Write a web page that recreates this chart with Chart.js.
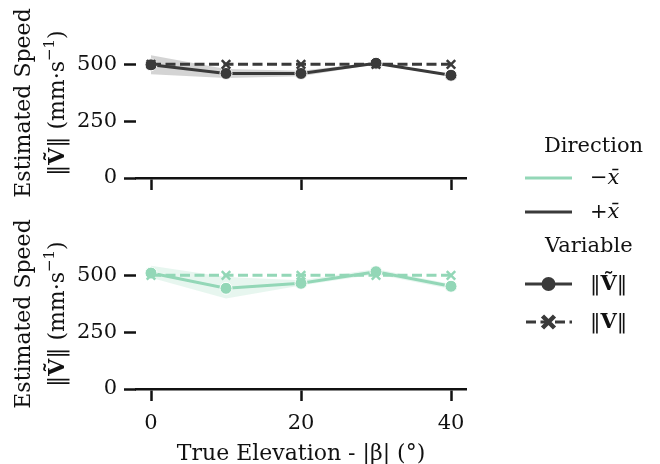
<!DOCTYPE html>
<html>
<head>
<meta charset="utf-8">
<script src="https://cdn.jsdelivr.net/npm/chart.js@4.4.1/dist/chart.umd.min.js"></script>
<style>
  body { margin: 0; background: #fff; }
  #wrap { position: relative; width: 660px; height: 464px; background: #fff; font-family: "DejaVu Serif", serif; color: #111; }
  canvas { position: absolute; left: 0; }
  #topCanvas { top: 0; }
  #botCanvas { top: 200px; }
  .lg { position: absolute; font-size: 21px; line-height: 24px; white-space: nowrap; }
</style>
</head>
<body>
<div id="wrap">
  <canvas id="topCanvas" width="660" height="200"></canvas>
  <canvas id="botCanvas" width="660" height="264"></canvas>

  <div class="lg" style="left:544px; top:133px;">Direction</div>
  <svg style="position:absolute; left:520px; top:160px;" width="60" height="180" id="handles"></svg>
  <div class="lg" style="left:590px; top:165px;">−<i>x̄</i></div>
  <div class="lg" style="left:590px; top:199px;">+<i>x̄</i></div>
  <div class="lg" style="left:545px; top:233px;">Variable</div>
  <div class="lg" style="left:590px; top:271px;">‖<b>Ṽ</b>‖</div>
  <div class="lg" style="left:590px; top:309px;">‖<b>V</b>‖</div>
</div>

<script>
// elevation angles (deg)
const elevation = [0, 10, 20, 30, 40];

// +x direction
const posEstimated = [498, 460, 460, 505, 452];
const posBandHigh  = [540, 480, 472, 509, 456];
const posBandLow   = [456, 440, 448, 501, 448];
const posTrue      = [500, 500, 500, 500, 500];

// -x direction
const negEstimated = [510, 443, 465, 516, 452];
const negBandHigh  = [542, 493, 478, 528, 462];
const negBandLow   = [490, 398, 455, 505, 440];
const negTrue      = [500, 500, 500, 500, 500];

const xTicks = [0, 20, 40];
const yTicks = [0, 250, 500];

const MINT = "#93d7b7";
const DARK = "#3a3a3a";
const FONT = "DejaVu Serif";

function pts(ys) {
    return elevation.map((x, i) => ({ x: x, y: ys[i] }));
}

// draws the two-line y title with mixed fonts
const yTitlePlugin = {
    id: "yTitle",
    afterDraw(chart) {
        const ctx = chart.ctx;
        const yc = (chart.chartArea.top + chart.chartArea.bottom) / 2;
        ctx.save();
        ctx.fillStyle = "#111";
        ctx.textBaseline = "alphabetic";

        // line 1
        ctx.save();
        ctx.translate(30, yc);
        ctx.rotate(-Math.PI / 2);
        ctx.font = `22px "${FONT}"`;
        ctx.textAlign = "center";
        ctx.fillText("Estimated Speed", 0, 0);
        ctx.restore();

        // line 2
        const runs = [
            { t: "‖", f: `22px "${FONT}"`, dy: 0 },
            { t: "Ṽ", f: `bold 22px "${FONT}"`, dy: 0 },
            { t: "‖ (mm·s", f: `22px "${FONT}"`, dy: 0 },
            { t: "−1", f: `15px "${FONT}"`, dy: -10 },
            { t: ")", f: `22px "${FONT}"`, dy: 0 }
        ];
        let total = 0;
        runs.forEach(r => { ctx.font = r.f; r.w = ctx.measureText(r.t).width; total += r.w; });
        ctx.save();
        ctx.translate(64, yc);
        ctx.rotate(-Math.PI / 2);
        ctx.textAlign = "left";
        let x = -total / 2;
        runs.forEach(r => { ctx.font = r.f; ctx.fillText(r.t, x, r.dy); x += r.w; });
        ctx.restore();

        ctx.restore();
    }
};

function makeChart(canvasId, color, shade, est, hi, lo, tru, padTop, showXLabels) {
    const canvas = document.getElementById(canvasId);
    const xHeight = canvas.height - padTop - 150;
    return new Chart(canvas, {
        type: "line",
        data: {
            datasets: [
                {
                    label: "true",
                    data: pts(tru),
                    borderColor: color,
                    borderWidth: 3,
                    borderDash: [10, 4.5],
                    pointStyle: "crossRot",
                    pointRadius: 6,
                    pointBorderWidth: 2.5,
                    pointBorderColor: color,
                    fill: false,
                    order: 0
                },
                {
                    label: "estimated",
                    data: pts(est),
                    borderColor: color,
                    borderWidth: 3,
                    pointStyle: "circle",
                    pointRadius: 6,
                    pointBackgroundColor: color,
                    pointBorderColor: "#ffffff",
                    pointBorderWidth: 1,
                    fill: false,
                    order: 1
                },
                {
                    label: "hi",
                    data: pts(hi),
                    borderWidth: 0,
                    pointRadius: 0,
                    fill: false,
                    order: 3
                },
                {
                    label: "lo",
                    data: pts(lo),
                    borderWidth: 0,
                    pointRadius: 0,
                    backgroundColor: shade,
                    fill: "-1",
                    order: 2
                }
            ]
        },
        options: {
            responsive: false,
            animation: false,
            events: [],
            layout: { autoPadding: false, padding: { top: padTop, right: 194, left: 0, bottom: 0 } },
            plugins: { legend: { display: false }, tooltip: { enabled: false } },
            scales: {
                x: {
                    type: "linear",
                    min: -2,
                    max: 42,
                    afterBuildTicks: s => { s.ticks = xTicks.map(v => ({ value: v })); },
                    afterFit: s => { s.height = xHeight; },
                    border: { display: true, color: "#111", width: 2.5 },
                    grid: { drawOnChartArea: false, drawTicks: true, tickLength: 12, tickWidth: 2.5, tickColor: "#111" },
                    ticks: {
                        display: true,
                        color: showXLabels ? "#111" : "rgba(0,0,0,0)",
                        font: { family: FONT, size: 21 },
                        padding: 10,
                        maxRotation: 0
                    },
                    title: {
                        display: showXLabels,
                        text: "True Elevation - |β| (°)",
                        color: "#111",
                        font: { family: FONT, size: 22 },
                        padding: { top: 0, bottom: -3 }
                    }
                },
                y: {
                    min: 0,
                    max: 660,
                    afterBuildTicks: s => { s.ticks = yTicks.map(v => ({ value: v })); },
                    afterFit: s => { s.width = 136; },
                    border: { display: false },
                    grid: { drawOnChartArea: false, drawTicks: true, tickLength: 12, tickWidth: 2.5, tickColor: "#111" },
                    ticks: {
                        color: "#111",
                        font: { family: FONT, size: 21 },
                        padding: 7
                    }
                }
            }
        },
        plugins: [yTitlePlugin]
    });
}

makeChart("topCanvas", DARK, "rgba(58,58,58,0.22)", posEstimated, posBandHigh, posBandLow, posTrue, 28, false);
makeChart("botCanvas", MINT, "rgba(147,215,183,0.22)", negEstimated, negBandHigh, negBandLow, negTrue, 39, true);

// legend handles
const svg = document.getElementById("handles");
svg.innerHTML =
    `<line x1="5" y1="18" x2="52" y2="18" stroke="${MINT}" stroke-width="2.8"/>` +
    `<line x1="5" y1="52" x2="52" y2="52" stroke="${DARK}" stroke-width="2.8"/>` +
    `<line x1="5" y1="124" x2="52" y2="124" stroke="${DARK}" stroke-width="2.8"/>` +
    `<circle cx="28.5" cy="124" r="7" fill="${DARK}"/>` +
    `<line x1="5" y1="162" x2="52" y2="162" stroke="${DARK}" stroke-width="2.8" stroke-dasharray="10,4.5" stroke-dashoffset="-1"/>` +
    `<path d="M22.5 156 L34.5 168 M34.5 156 L22.5 168" stroke="${DARK}" stroke-width="4.5"/>`;
</script>
</body>
</html>
